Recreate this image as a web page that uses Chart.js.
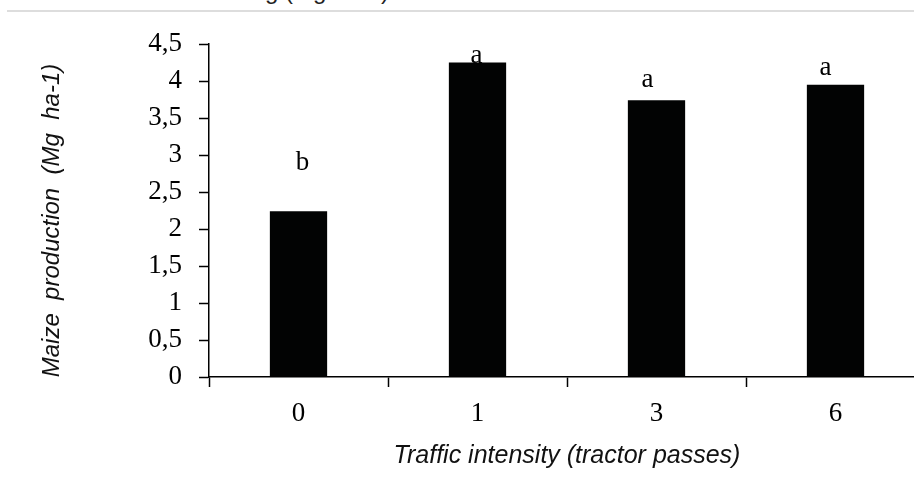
<!DOCTYPE html>
<html>
<head>
<meta charset="utf-8">
<script src="https://cdn.jsdelivr.net/npm/chart.js@4.4.0/dist/chart.umd.min.js"></script>
<style>
  html, body { margin: 0; padding: 0; background: #fff; overflow: hidden; }
  body { width: 914px; height: 479px; position: relative; }
  #caption {
    position: absolute; right: 525px; top: -21px; white-space: nowrap;
    font: 24px/24px "Liberation Sans", Arial, sans-serif; color: #222;
  }
  #rule { position: absolute; left: 7px; right: 0; top: 10px; height: 2px; background: #ddd; }
  #wrap { position: absolute; left: 0; top: 0; width: 930px; height: 479px; }
</style>
</head>
<body>
<div id="caption">Maize under trafficking (Mg ha-1)</div>
<div id="rule"></div>
<div id="wrap"><canvas id="bars"></canvas></div>
<script>
const passes = ["0", "1", "3", "6"];
const production = [2.24, 4.25, 3.74, 3.95];
const groups = ["b", "a", "a", "a"];

// letters above bars: [dx, baseline gap above bar top]
const letterOffsets = [[4, 41], [-1, 0], [-9, 13], [-10, 10]];

const serif = '"Liberation Serif", "Times New Roman", serif';
const sans = '"Liberation Sans", Arial, sans-serif';

const groupLetters = {
  id: "groupLetters",
  afterDatasetsDraw(chart) {
    const ctx = chart.ctx;
    const meta = chart.getDatasetMeta(0);
    ctx.save();
    ctx.font = "27px " + serif;
    ctx.fillStyle = "#000";
    ctx.textAlign = "center";
    ctx.textBaseline = "alphabetic";
    meta.data.forEach((bar, i) => {
      const [dx, gap] = letterOffsets[i];
      ctx.fillText(groups[i], bar.x + dx, bar.y - gap);
    });
    ctx.restore();
  },
};

new Chart(document.getElementById("bars").getContext("2d"), {
  type: "bar",
  data: {
    labels: passes,
    datasets: [
      {
        label: "Maize production",
        data: production,
        backgroundColor: "#020303",
        borderWidth: 0,
        categoryPercentage: 1,
        barPercentage: 0.32,
      },
    ],
  },
  options: {
    responsive: true,
    maintainAspectRatio: false,
    animation: false,
    layout: { padding: { top: 44, right: 5, left: 0, bottom: 0 } },
    plugins: { legend: { display: false }, tooltip: { enabled: false } },
    scales: {
      x: {
        afterFit: (scale) => { scale.height = 102; },
        grid: {
          offset: true,
          drawOnChartArea: false,
          drawTicks: true,
          tickLength: 10,
          tickWidth: 1.5,
          color: "#000",
        },
        border: { display: true, color: "#000", width: 1.5 },
        ticks: { color: "#000", font: { family: serif, size: 27 }, padding: 11 },
        title: {
          display: true,
          text: "Traffic intensity (tractor passes)",
          color: "#111",
          font: { family: sans, size: 25, style: "italic", lineHeight: 1.2 },
          padding: { top: 0, bottom: 8 },
        },
      },
      y: {
        min: 0,
        max: 4.5,
        afterFit: (scale) => { scale.width = 209; },
        grid: {
          drawOnChartArea: false,
          drawTicks: true,
          tickLength: 10,
          tickWidth: 1.5,
          color: "#000",
        },
        border: { display: true, color: "#000", width: 1.5 },
        ticks: {
          stepSize: 0.5,
          color: "#000",
          padding: 17,
          font: { family: serif, size: 27 },
          callback: (v) => String(v).replace(".", ","),
        },
        title: {
          display: true,
          text: "Maize  production  (Mg  ha-1)   ",
          color: "#111",
          font: { family: sans, size: 24, style: "italic", lineHeight: 1.2 },
          padding: { top: 38, bottom: 0 },
        },
      },
    },
  },
  plugins: [groupLetters],
});
</script>
</body>
</html>
